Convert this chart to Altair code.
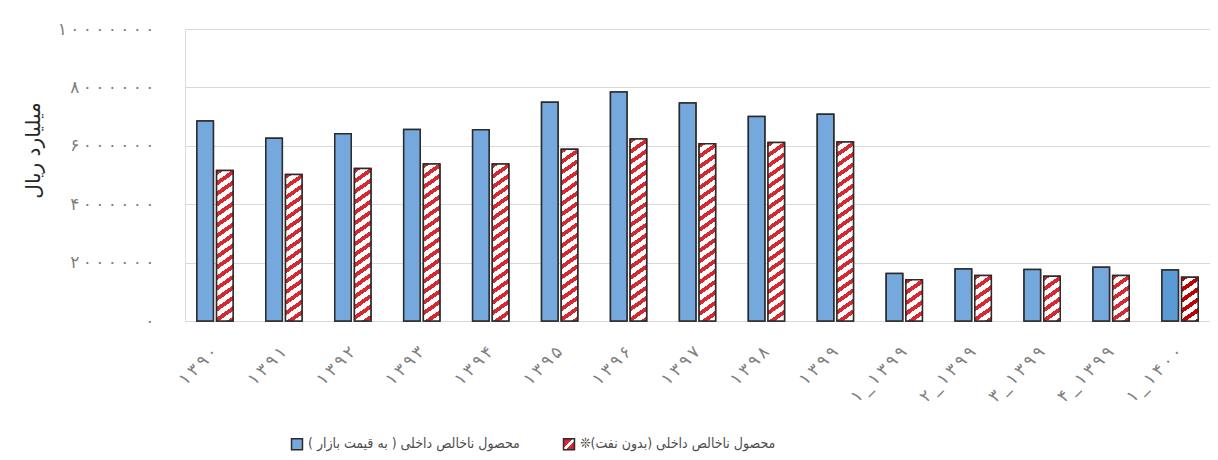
import json
import altair as alt

# ---------------- data ----------------
categories = ["۱۳۹۰", "۱۳۹۱", "۱۳۹۲", "۱۳۹۳", "۱۳۹۴", "۱۳۹۵", "۱۳۹۶", "۱۳۹۷",
              "۱۳۹۸", "۱۳۹۹", "۱_۱۳۹۹", "۲_۱۳۹۹", "۳_۱۳۹۹", "۴_۱۳۹۹", "۱_۱۴۰۰"]
gdp_market = [6850000, 6260000, 6410000, 6560000, 6550000, 7490000, 7840000, 7470000,
              7000000, 7080000, 1630000, 1780000, 1760000, 1840000, 1750000]
gdp_non_oil = [5150000, 5020000, 5220000, 5380000, 5380000, 5880000, 6230000, 6070000,
               6110000, 6130000, 1410000, 1560000, 1530000, 1560000, 1500000]
series_names = ["محصول ناخالص داخلی ( به قیمت بازار )\u200f",
                "محصول ناخالص داخلی (بدون نفت)❊\u200f"]
blue_colors = ["#75a8dc"] * 14 + ["#5b9bd5"]
red_colors = ["#d8282f"] * 14 + ["#c00000"]
y_ticks = [0, 2000000, 4000000, 6000000, 8000000, 10000000]
y_tick_labels = ["۰", "۲۰۰۰۰۰۰", "۴۰۰۰۰۰۰", "۶۰۰۰۰۰۰", "۸۰۰۰۰۰۰", "۱۰۰۰۰۰۰۰"]
y_title = "میلیارد ریال"

# ---------------- layout ----------------
PLOT_W, PLOT_H = 1025, 292
Y_MAX = 10000000
X_PAD_INNER, X_PAD_OUTER = 0.475, 0.1725
OFF_PAD_INNER = 0.162
step = PLOT_W / (len(categories) - X_PAD_INNER + 2 * X_PAD_OUTER)
group_w = step * (1 - X_PAD_INNER)
bar_w = group_w * (1 - OFF_PAD_INNER) / (2 - OFF_PAD_INNER)


def hatch(w, h, color, period=10.5, frac=0.45, slope=0.7):
    """diagonal red/white stripes as an objectBoundingBox linear gradient.
    stripes are isolines of slope*x + y (pixels); period measured vertically."""
    sw = slope * w
    total = sw + h
    stops = []
    s = 0.0
    while s < total:
        a = s / total
        b = min((s + period * frac) / total, 1.0)
        c = min((s + period) / total, 1.0)
        stops += [{"offset": a, "color": color}, {"offset": b, "color": color},
                  {"offset": b, "color": "#ffffff"}, {"offset": c, "color": "#ffffff"}]
        s += period
    k = total / (sw * sw + h * h)
    return {"gradient": "linear", "x1": 0, "y1": 0, "x2": sw * k, "y2": h * k, "stops": stops}


rows = []
for i, cat in enumerate(categories):
    rows.append({"cat": cat, "series": series_names[0], "value": gdp_market[i],
                 "fill": blue_colors[i]})
    h = gdp_non_oil[i] / Y_MAX * PLOT_H
    rows.append({"cat": cat, "series": series_names[1], "value": gdp_non_oil[i],
                 "fill": hatch(bar_w, h, red_colors[i])})

data = alt.Data(values=rows)

legend_grad = ("{gradient:'linear',x1:0,y1:0,x2:1,y2:1,stops:["
               "{offset:0,color:'#d8282f'},{offset:0.40,color:'#d8282f'},"
               "{offset:0.40,color:'#ffffff'},{offset:0.60,color:'#ffffff'},"
               "{offset:0.60,color:'#d8282f'},{offset:1,color:'#d8282f'}]}")

THIN = "\u2009"
y_label_map = {str(v): THIN.join(lab) for v, lab in zip(y_ticks, y_tick_labels)}
y_label_expr = json.dumps(y_label_map, ensure_ascii=False) + "[''+datum.value]"
x_label_map = {c: THIN.join(c) for c in categories}
x_label_expr = json.dumps(x_label_map, ensure_ascii=False) + "[datum.value]"

FONT = "DejaVu Sans"
LEG_FONT = "DejaVu Sans Condensed, DejaVu Sans"

x_enc = alt.X("cat:N", sort=categories,
              scale=alt.Scale(paddingInner=X_PAD_INNER, paddingOuter=X_PAD_OUTER),
              axis=alt.Axis(title=None, labelAngle=-45, labelAlign="right",
                            labelBaseline="middle", labelPadding=28,
                            labelExpr=x_label_expr,
                            labelFont=FONT, labelFontSize=17, labelColor="#7f7f7f",
                            ticks=False, domain=True, domainColor="#d9d9d9",
                            domainWidth=1, grid=False))
xoff_enc = alt.XOffset("series:N", sort=series_names,
                       scale=alt.Scale(domain=series_names, paddingInner=OFF_PAD_INNER,
                                       paddingOuter=0))
y_enc = alt.Y("value:Q",
              scale=alt.Scale(domain=[0, Y_MAX], nice=False),
              axis=alt.Axis(values=y_ticks, labelExpr=y_label_expr,
                            labelFont=FONT, labelFontSize=17, labelColor="#7f7f7f",
                            labelPadding=31, ticks=False, domain=False,
                            grid=True, gridColor="#d9d9d9", gridWidth=1,
                            title=y_title, titleFont=FONT, titleFontSize=20,
                            titleFontWeight="normal", titleColor="#262626",
                            titleAngle=-90, titleX=-152, titleY=121,
                            titleAlign="center", titleBaseline="middle"))

base = alt.Chart(data).mark_bar(stroke="#2b2b2b", strokeWidth=1.5)

legend_layer = base.encode(
    x=x_enc, xOffset=xoff_enc, y=y_enc,
    color=alt.Color("series:N", sort=series_names,
                    scale=alt.Scale(domain=series_names,
                                    range=["#75a8dc", alt.ExprRef(legend_grad)]),
                    legend=alt.Legend(title=None, orient="none", direction="horizontal",
                                      legendX=105, legendY=408, columnPadding=40,
                                      symbolType="square", symbolSize=120,
                                      symbolStrokeColor="#2b2b2b", symbolStrokeWidth=1.5,
                                      labelFont=LEG_FONT, labelFontSize=14,
                                      labelColor="#4d4d4d", labelLimit=500,
                                      labelOffset=4)),
)

bars_layer = base.encode(
    x=x_enc, xOffset=xoff_enc, y=y_enc,
    fill=alt.Fill("fill:N", scale=None, legend=None),
)

chart = alt.layer(legend_layer, bars_layer).properties(
    width=PLOT_W, height=PLOT_H,
    autosize=alt.AutoSizeParams(type="none"),
    padding={"left": 177, "top": 21, "right": 0, "bottom": 131},
).configure_view(stroke=None).configure(background="white")

chart.save("out.html", embed_options={"renderer": "svg", "actions": False})
